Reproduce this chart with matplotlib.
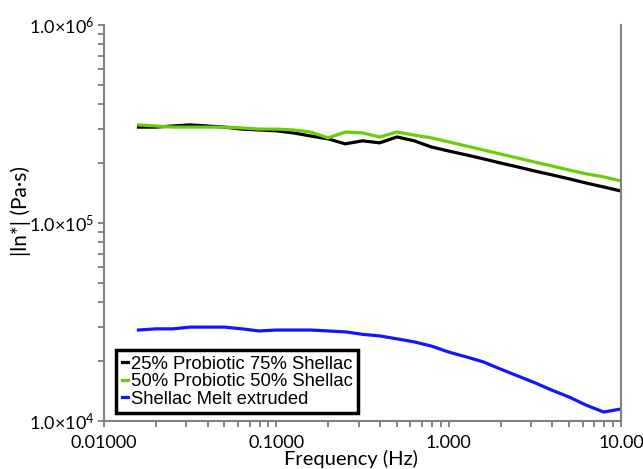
import numpy as np
import matplotlib
matplotlib.use("Agg")
import matplotlib.pyplot as plt
from matplotlib.ticker import FixedLocator, NullFormatter

plt.rcParams['font.family'] = ['Lato', 'DejaVu Sans']
plt.rcParams['mathtext.fontset'] = 'custom'
plt.rcParams['mathtext.rm'] = 'Lato'
plt.rcParams['mathtext.it'] = 'Lato'

# frequency sweep (Hz)
freq = [0.01585, 0.01995, 0.02512, 0.03162, 0.03981, 0.05012, 0.06310, 0.07943,
        0.1, 0.1259, 0.1585, 0.1995, 0.2512, 0.3162, 0.3981, 0.5012, 0.6310,
        0.7943, 1.0, 1.259, 1.585, 1.995, 2.512, 3.162, 3.981, 5.012, 6.310,
        7.943, 10.0]

# |eta*| (Pa.s)
p25 = [3.05e5, 3.05e5, 3.09e5, 3.13e5, 3.09e5, 3.05e5, 2.98e5, 2.95e5, 2.92e5,
       2.85e5, 2.75e5, 2.66e5, 2.51e5, 2.60e5, 2.54e5, 2.72e5, 2.60e5, 2.42e5,
       2.31e5, 2.21e5, 2.11e5, 2.01e5, 1.92e5, 1.83e5, 1.75e5, 1.67e5, 1.59e5,
       1.52e5, 1.45e5]
p50 = [3.13e5, 3.09e5, 3.05e5, 3.05e5, 3.05e5, 3.05e5, 3.02e5, 2.98e5, 2.98e5,
       2.95e5, 2.88e5, 2.69e5, 2.88e5, 2.85e5, 2.72e5, 2.88e5, 2.78e5, 2.69e5,
       2.57e5, 2.45e5, 2.34e5, 2.23e5, 2.13e5, 2.03e5, 1.94e5, 1.85e5, 1.77e5,
       1.71e5, 1.63e5]
shellac = [2.88e4, 2.92e4, 2.92e4, 2.98e4, 2.98e4, 2.98e4, 2.92e4, 2.85e4, 2.88e4,
           2.88e4, 2.88e4, 2.85e4, 2.82e4, 2.74e4, 2.69e4, 2.60e4, 2.51e4, 2.39e4,
           2.23e4, 2.11e4, 1.99e4, 1.83e4, 1.69e4, 1.56e4, 1.43e4, 1.32e4, 1.20e4,
           1.11e4, 1.15e4]

labels = ["25% Probiotic 75% Shellac", "50% Probiotic 50% Shellac",
          "Shellac Melt extruded"]

xticks = [0.01, 0.1, 1, 10]
xticklabels = ["0.01000", "0.1000", "1.000", "10.00"]
yticks = [1e4, 1e5, 1e6]
yticklabels = ["1.0×10$^{4}$", "1.0×10$^{5}$", "1.0×10$^{6}$"]

fig = plt.figure(figsize=(6.43, 4.69), dpi=100)
ax = fig.add_axes([104/643, 1-421/469, 517/643, 396/469])

ax.plot(freq, p25, color="black", lw=2.3, label=labels[0])
ax.plot(freq, p50, color="#6ccb0a", lw=2.3, label=labels[1])
ax.plot(freq, shellac, color="#1414ff", lw=2.3, label=labels[2])

ax.set_xscale("log")
ax.set_yscale("log")
ax.set_xlim(0.01, 10)
ax.set_ylim(1e4, 1e6)

ax.set_xticks(xticks)
ax.set_xticklabels(xticklabels)
ax.set_yticks(yticks)
ax.set_yticklabels(yticklabels)
ax.xaxis.set_minor_locator(FixedLocator([m * d for d in [0.01, 0.1, 1] for m in range(2, 10)]))
ax.yaxis.set_minor_locator(FixedLocator([m * d for d in [1e4, 1e5] for m in range(2, 10)]))
ax.xaxis.set_minor_formatter(NullFormatter())
ax.yaxis.set_minor_formatter(NullFormatter())

ax.tick_params(which="both", direction="out", length=4, width=1.2, color="#707070",
               labelsize=13, pad=3)
ax.tick_params(axis="x", which="major", pad=6)

for s in ["left", "right", "bottom"]:
    ax.spines[s].set_color("#808080")
    ax.spines[s].set_linewidth(1.5)
ax.spines["top"].set_visible(False)

ax.set_xlabel("Frequency (Hz)", fontsize=14.5, va="center")
ax.xaxis.set_label_coords(0.478, -0.097)
ax.set_ylabel("|ln*| (Pa·s)", fontsize=15, va="center")
ax.yaxis.set_label_coords(-0.162, 0.53)

leg = ax.legend(loc="lower left", bbox_to_anchor=(0.024, 0.02), borderaxespad=0,
                prop={"family": "Liberation Sans", "size": 13.3}, handlelength=0.35,
                handletextpad=0.12, labelspacing=0.02, borderpad=0.3,
                fancybox=False, framealpha=1)
leg.get_frame().set_edgecolor("black")
leg.get_frame().set_linewidth(2.5)

fig.savefig("out.png", dpi=100)
